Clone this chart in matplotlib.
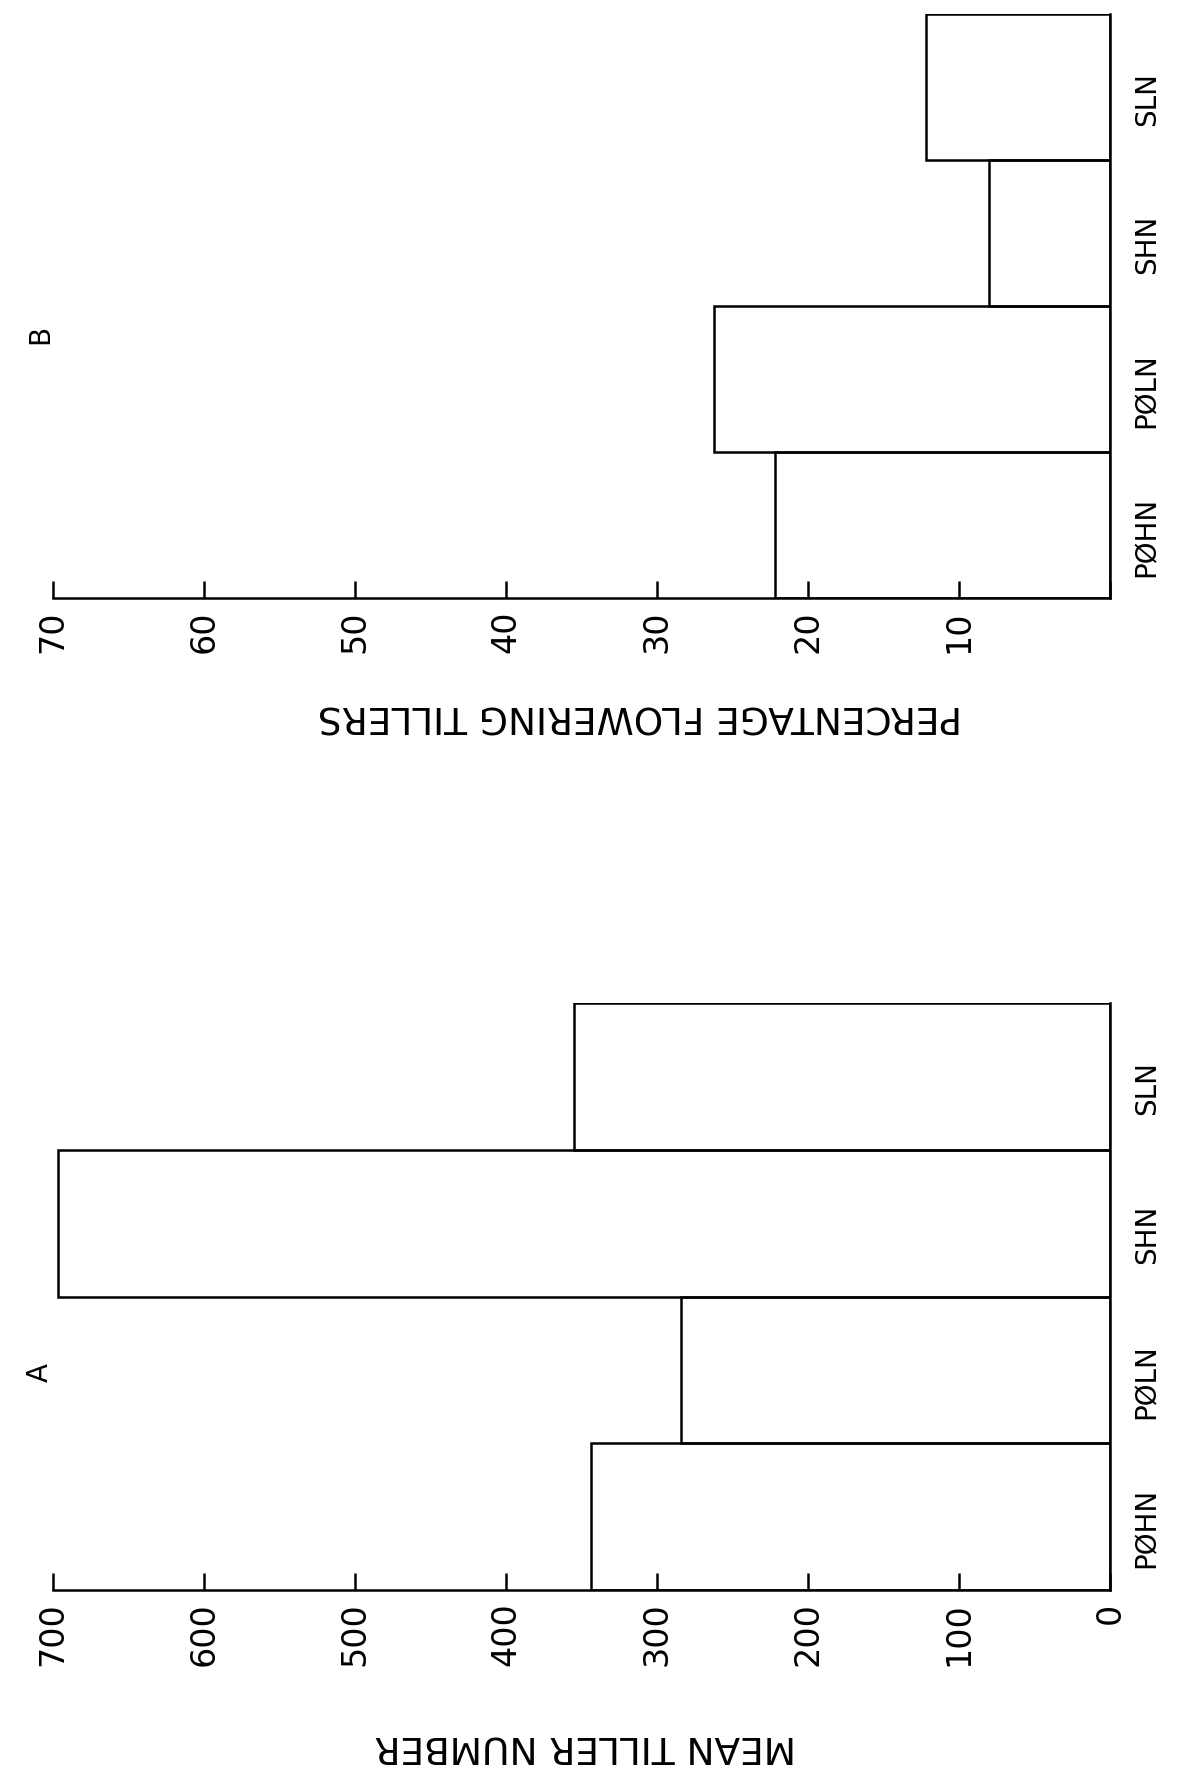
import matplotlib.pyplot as plt

# values (drawn rotated 90 degrees)
CATEGORIES = ["PØHN", "PØLN", "SHN", "SLN"]
TILLER_NUMBER = [344, 284, 697, 355]
FLOWERING_PCT = [22.2, 26.2, 8.0, 12.2]
TICKS_A = [0, 100, 200, 300, 400, 500, 600, 700]
TICK_LABELS_A = ["0", "100", "200", "300", "400", "500", "600", "700"]
TICKS_B = [0, 10, 20, 30, 40, 50, 60, 70]
TICK_LABELS_B = ["", "10", "20", "30", "40", "50", "60", "70"]

plt.rcParams["font.family"] = ["DejaVu Sans"]

W, H = 1180, 1778
fig = plt.figure(figsize=(W / 100, H / 100), dpi=100)


def panel(rect_px, values, vmax, ticks, tick_labels, title, title_x, title_y, letter, letter_y):
	x0, x1, ytop, ybot = rect_px
	ax = fig.add_axes([x0 / W, 1 - ybot / H, (x1 - x0) / W, (ybot - ytop) / H])
	pos = [i + 0.5 for i in range(len(values))]
	ax.barh(pos, values, height=1.0, fill=False, edgecolor="black", linewidth=1.8)
	ax.set_xlim(vmax, 0)
	ax.set_ylim(0, len(values))
	for s in ["top", "left"]:
		ax.spines[s].set_visible(False)
	ax.spines["bottom"].set_linewidth(1.8)
	ax.spines["right"].set_linewidth(1.8)
	ax.set_xticks(ticks)
	ax.set_xticklabels(tick_labels, rotation=90, fontsize=24)
	ax.tick_params(axis="x", direction="in", length=12, width=1.8, pad=9)
	ax.set_yticks([])
	for p, c in zip(pos, CATEGORIES):
		ax.text(1.035, (p - 0.08) / len(values), c, transform=ax.transAxes, rotation=90,
			ha="center", va="center", fontsize=20)
	# axis titles are upside down in the scanned page
	fig.text(title_x / W, 1 - title_y / H, title, rotation=180,
		ha="center", va="center", fontsize=27)
	fig.text(40 / W, 1 - letter_y / H, letter, rotation=90, ha="center", va="center", fontsize=20)
	return ax


panel((53, 1110, 1003, 1590), TILLER_NUMBER, 700, TICKS_A, TICK_LABELS_A,
	"MEAN TILLER NUMBER", 585, 1746, "A", 1372)
panel((53, 1110, 14, 598), FLOWERING_PCT, 70, TICKS_B, TICK_LABELS_B,
	"PERCENTAGE FLOWERING TILLERS", 640, 716, "B", 334)

fig.savefig("out.png", dpi=100)
